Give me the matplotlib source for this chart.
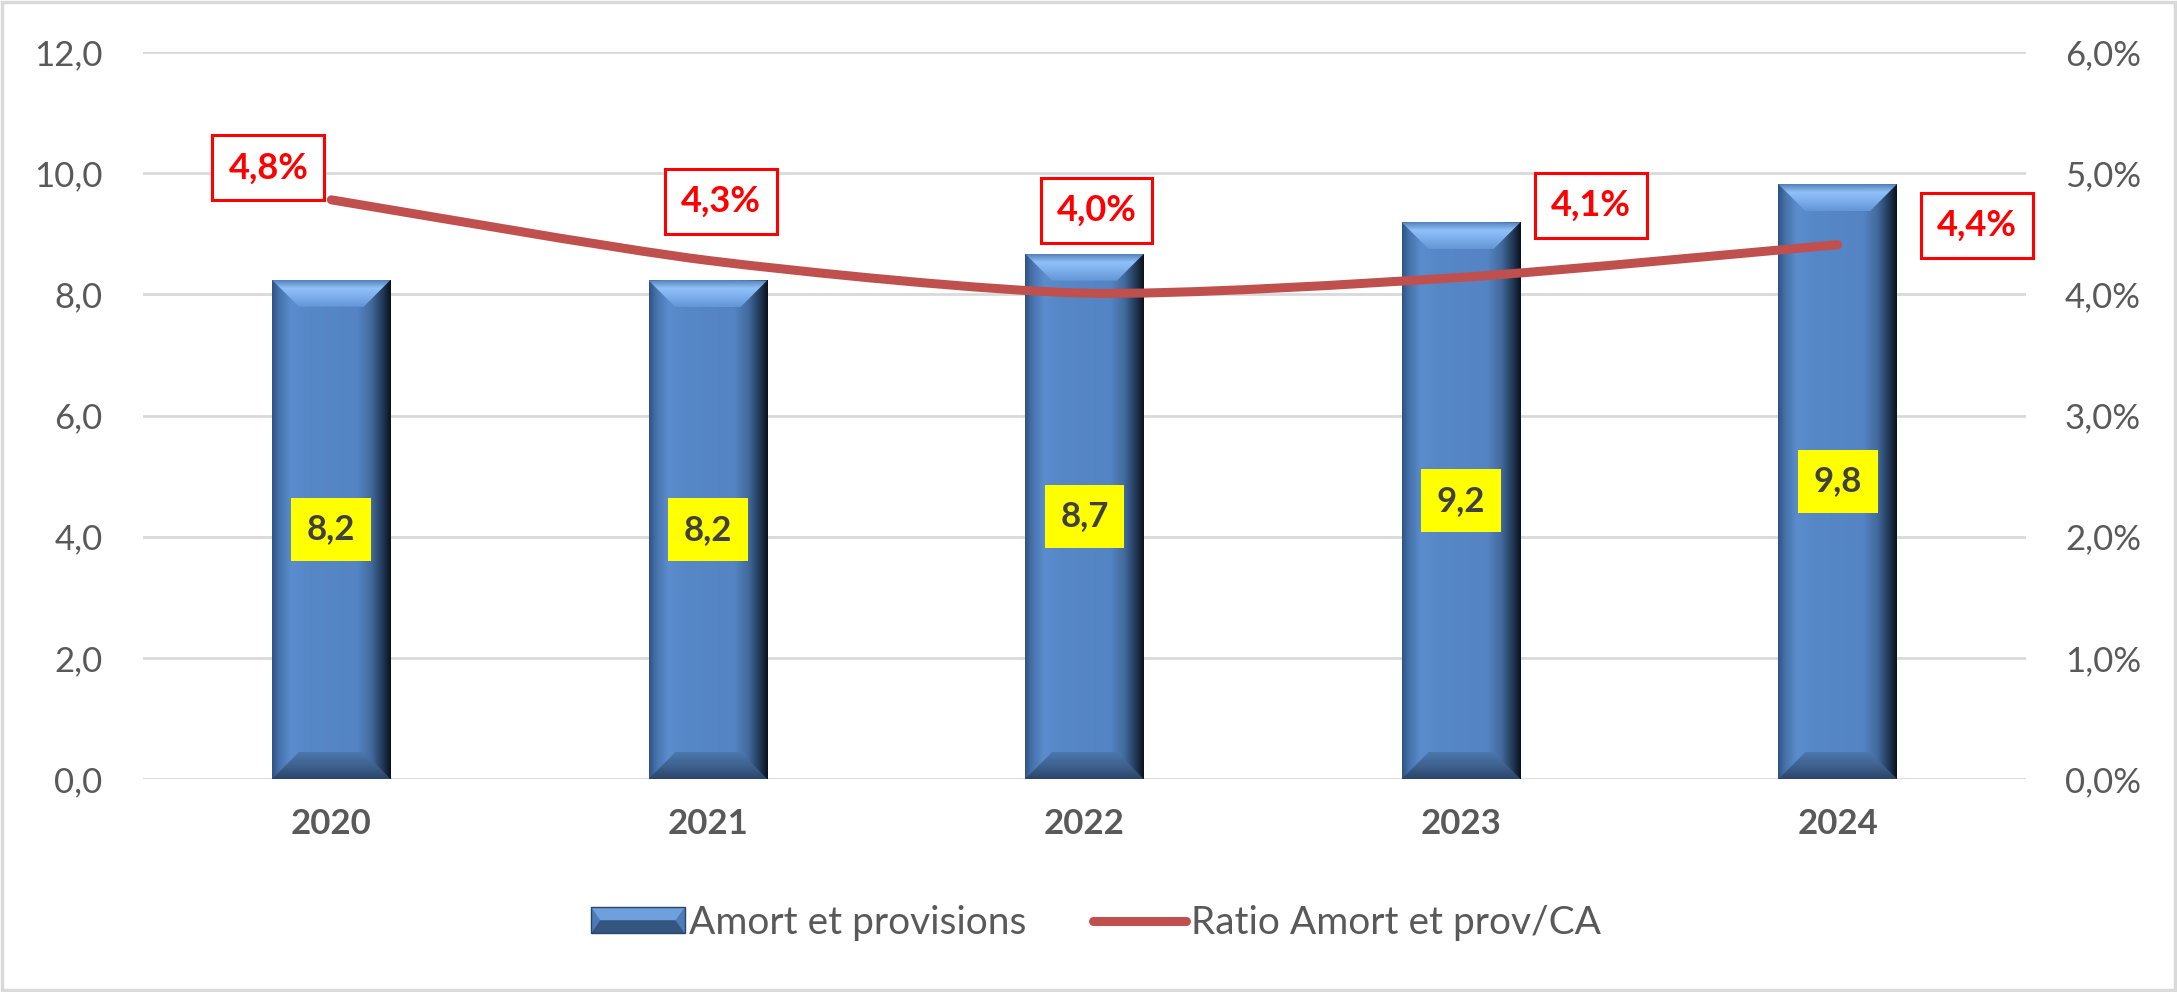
import numpy as np
import matplotlib
matplotlib.use("Agg")
import matplotlib.pyplot as plt
from matplotlib.patches import Rectangle, Polygon, Patch
from matplotlib.lines import Line2D
from matplotlib.path import Path
from matplotlib.patches import PathPatch
from matplotlib.colors import to_rgb
from matplotlib.legend_handler import HandlerBase

plt.rcParams['font.family'] = ['Lato', 'DejaVu Sans']

years = ['2020', '2021', '2022', '2023', '2024']
amort = [8.24, 8.23, 8.67, 9.19, 9.82]          # left axis
ratio = [4.78, 4.28, 4.01, 4.14, 4.41]          # % right axis
# label offsets (pixels) for the ratio labels, as placed in the original
ratio_offsets = [(-63, 32), (13, 59), (12, 83), (130, 72), (139, 19)]

bar_label = 'Amort et provisions'
line_label = 'Ratio Amort et prov/CA'

GRAY = '#595959'
RED = '#FF0000'
LINE = '#C0504D'

W, H = 2177, 992
fig = plt.figure(figsize=(W / 100, H / 100), dpi=100)
ax_l, ax_b, ax_w, ax_h = 143 / W, (H - 779) / H, (2026 - 143) / W, (779 - 52) / H
ax = fig.add_axes([ax_l, ax_b, ax_w, ax_h])
ax2 = ax.twinx()

x = np.arange(len(years))
ax.set_xlim(-0.5, len(years) - 0.5)
ax.set_ylim(0, 12)
ax2.set_ylim(0, 6)

px_x = ax_w * W / (len(years))      # pixels per x unit
px_y = ax_h * H / 12                # pixels per y unit

# grid
for v in np.arange(0, 12.1, 2):
    ax.axhline(v, color='#D9D9D9', lw=2, zorder=0)

bw = 0.315
bev = 27
dx, dy = bev / px_x, bev / px_y

def hgrad(stops, n=200):
    pos = [s[0] for s in stops]
    cols = np.array([to_rgb(s[1]) for s in stops])
    t = np.linspace(0, 1, n)
    return np.stack([np.interp(t, pos, cols[:, k]) for k in range(3)], axis=-1)

side = hgrad([(0, '#2F5385'), (0.06, '#4673AC'), (0.16, '#5B8CCD'),
              (0.3, '#5687C7'), (0.72, '#5484C4'), (0.84, '#42699C'),
              (0.94, '#1F3552'), (1, '#0A121D')])[None, :, :]
top = hgrad([(0, '#5580B8'), (0.3, '#8FC0F8'), (0.55, '#82B3F0'), (1, '#6394D4')])[:, None, :]
bot = hgrad([(0, '#4C77AE'), (0.5, '#3E6290'), (1, '#2B4466')])[:, None, :]

for xi, v in zip(x, amort):
    x0, x1 = xi - bw / 2, xi + bw / 2
    rect = Rectangle((x0, 0), bw, v, facecolor='#5585C5', edgecolor='none', zorder=2)
    ax.add_patch(rect)
    im = ax.imshow(side, extent=[x0, x1, 0, v], aspect='auto', zorder=2.1,
                   interpolation='bilinear')
    im.set_clip_path(rect)
    tp = Polygon([(x0, v), (x1, v), (x1 - dx, v - dy), (x0 + dx, v - dy)],
                 closed=True, facecolor='none', edgecolor='none')
    ax.add_patch(tp)
    im = ax.imshow(top, extent=[x0, x1, v - dy, v], aspect='auto', zorder=2.2,
                   interpolation='bilinear')
    im.set_clip_path(tp)
    bp = Polygon([(x0, 0), (x1, 0), (x1 - dx, dy), (x0 + dx, dy)],
                 closed=True, facecolor='none', edgecolor='none')
    ax.add_patch(bp)
    im = ax.imshow(bot, extent=[x0, x1, 0, dy], aspect='auto', zorder=2.2,
                   interpolation='bilinear')
    im.set_clip_path(bp)
    ax.text(xi, v / 2, f"{v:.1f}".replace('.', ','), ha='center', va='center',
            fontsize=25, fontweight='bold', color='#404040', zorder=5,
            bbox=dict(boxstyle='square,pad=0.45', facecolor='#FFFF00', edgecolor='none'))

ax.set_xlim(-0.5, len(years) - 0.5)
ax.set_ylim(0, 12)

# smoothed ratio line (bezier through the points, like Excel)
pts = np.column_stack([x, ratio]).astype(float)
verts = [tuple(pts[0])]
codes = [Path.MOVETO]
n = len(pts)
for i in range(n - 1):
    p0 = pts[i - 1] if i > 0 else pts[i]
    p1, p2 = pts[i], pts[i + 1]
    p3 = pts[i + 2] if i + 2 < n else pts[i + 1]
    c1 = p1 + (p2 - p0) / 8
    c2 = p2 - (p3 - p1) / 8
    verts += [tuple(c1), tuple(c2), tuple(p2)]
    codes += [Path.CURVE4] * 3
ax2.add_patch(PathPatch(Path(verts, codes), facecolor='none', edgecolor=LINE,
                        lw=6.5, capstyle='round', joinstyle='round', zorder=3))

for xi, r, off in zip(x, ratio, ratio_offsets):
    ax2.annotate(f"{r:.1f}%".replace('.', ','), (xi, r), xytext=off,
                 textcoords='offset pixels', ha='center', va='center',
                 fontsize=26, fontweight='bold', color=RED, zorder=6,
                 bbox=dict(boxstyle='square,pad=0.44', facecolor='white',
                           edgecolor=RED, lw=2.2))

# axes styling
ax.set_xticks(x)
ax.set_xticklabels(years, fontsize=25, fontweight='bold', color=GRAY)
ax.set_yticks(np.arange(0, 12.1, 2))
ax.set_yticklabels([f"{v:.1f}".replace('.', ',') for v in np.arange(0, 12.1, 2)],
                   fontsize=25, color=GRAY)
ax2.set_yticks(np.arange(0, 6.1, 1))
ax2.set_yticklabels([f"{v:.1f}%".replace('.', ',') for v in np.arange(0, 6.1, 1)],
                    fontsize=25, color=GRAY)
ax.tick_params(axis='x', length=0, pad=21)
ax.tick_params(axis='y', length=0, pad=29)
ax2.tick_params(axis='y', length=0, pad=28)
for a in (ax, ax2):
    for s in a.spines.values():
        s.set_visible(False)


class BevelHandler(HandlerBase):
    def create_artists(self, legend, orig, xd, yd, width, height, fontsize, trans):
        x0, y0 = -xd, -yd
        b = height * 0.35
        arts = [Rectangle((x0, y0), width, height, facecolor='#4C7BB8', edgecolor='none'),
                Polygon([(x0, y0 + height), (x0 + width, y0 + height),
                         (x0 + width - b, y0 + height / 2), (x0 + b, y0 + height / 2)],
                        facecolor='#6F9FDC', edgecolor='none'),
                Polygon([(x0, y0), (x0 + width, y0),
                         (x0 + width - b, y0 + height / 2), (x0 + b, y0 + height / 2)],
                        facecolor='#34557F', edgecolor='none'),
                Rectangle((x0, y0), width, height, facecolor='none', edgecolor='#2A4467', lw=1)]
        for a in arts:
            a.set_transform(trans)
        return arts


handles = [Patch(facecolor='#4F81BD'),
           Line2D([0], [0], color=LINE, lw=6.5, solid_capstyle='round')]
fig.legend(handles, [bar_label, line_label], loc='center',
           bbox_to_anchor=(1096 / W, (H - 923) / H), ncol=2, frameon=False,
           fontsize=28, labelcolor=GRAY, handlelength=2.4, handleheight=0.65,
           handletextpad=0.12, columnspacing=1.7,
           handler_map={Patch: BevelHandler()})

fig.add_artist(Rectangle((0.001, 0.002), 0.998, 0.996, transform=fig.transFigure,
                         facecolor='none', edgecolor='#D9D9D9', lw=2.5))

fig.savefig('out.png', dpi=100, facecolor='white')
